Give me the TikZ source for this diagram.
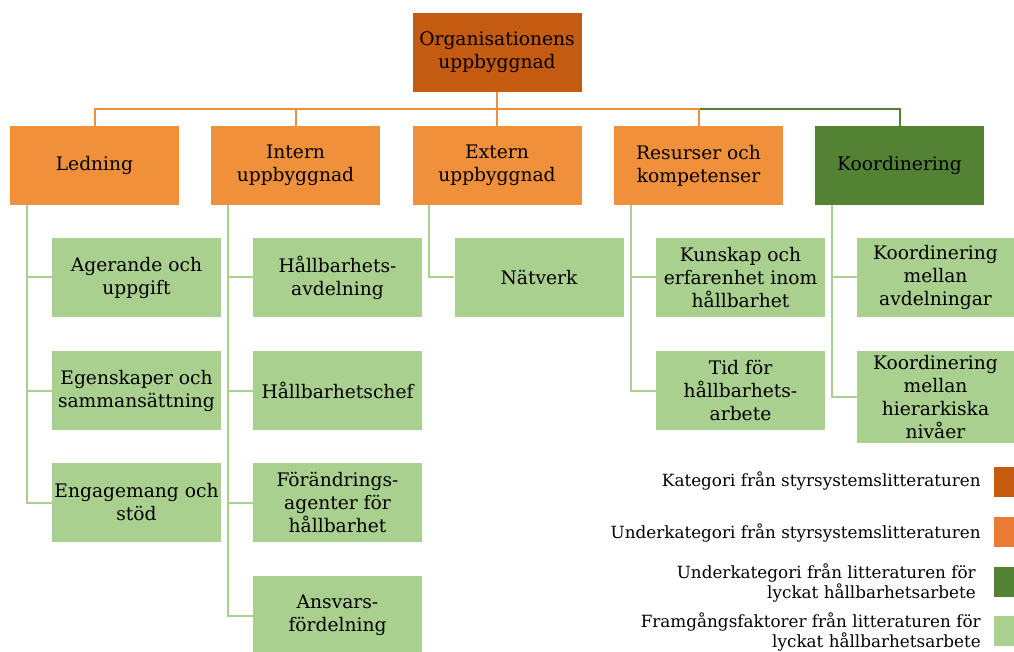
\documentclass[tikz,border=0pt]{standalone}
\usepackage{fontspec}
\setmainfont{DejaVu Serif}
\definecolor{katc}{HTML}{C55A11}
\definecolor{underc}{HTML}{F0903A}
\definecolor{legorange}{HTML}{E97B35}
\definecolor{koordc}{HTML}{548235}
\definecolor{faktorc}{HTML}{A9D08E}
\begin{document}
\begin{tikzpicture}[x=0.75pt, y=-0.75pt,
  box/.style={rectangle, inner sep=0pt, minimum width=126.75pt, minimum height=59.25pt, align=center, font=\fontsize{14}{17.25}\selectfont},
  kat/.style={box, fill=katc},
  under/.style={box, fill=underc},
  koord/.style={box, fill=koordc},
  faktor/.style={box, fill=faktorc},
  leg/.style={anchor=east, align=right, inner sep=0pt, font=\fontsize{12.6}{15}\selectfont},
  legbox/.style={rectangle, inner sep=0pt, minimum width=15pt, minimum height=22.5pt},
  orangeline/.style={draw=underc, line width=1.5pt},
  greenline/.style={draw=koordc, line width=1.5pt},
  subline/.style={draw=faktorc, line width=1.5pt}]
  \useasboundingbox (0,0) rectangle (1014,652);

  % Root
  \node[kat] (org) at (497, 52.5) {Organisationens\\uppbyggnad};

  % Underkategorier
  \node[under] (led) at (94.5, 165.5) {Ledning};
  \node[under] (intern) at (295.5, 165.5) {Intern\\uppbyggnad};
  \node[under] (extern) at (497, 165.5) {Extern\\uppbyggnad};
  \node[under] (resurs) at (698.5, 165.5) {Resurser och\\kompetenser};
  \node[koord] (koord) at (899.5, 165.5) {Koordinering};

  % Framgangsfaktorer - Ledning
  \node[faktor] (agerande) at (136.5, 277.5) {Agerande och\\uppgift};
  \node[faktor] (egenskap) at (136.5, 390.5) {Egenskaper och\\sammansättning};
  \node[faktor] (engagemang) at (136.5, 502.5) {Engagemang och\\stöd};

  % Framgangsfaktorer - Intern uppbyggnad
  \node[faktor] (avdelning) at (337.5, 277.5) {Hållbarhets-\\avdelning};
  \node[faktor] (chef) at (337.5, 390.5) {Hållbarhetschef};
  \node[faktor] (agenter) at (337.5, 502.5) {Förändrings-\\agenter för\\hållbarhet};
  \node[faktor] (ansvar) at (337.5, 615.5) {Ansvars-\\fördelning};

  % Framgangsfaktorer - Extern, Resurser, Koordinering
  \node[faktor] (natverk) at (539, 277.5) {Nätverk};
  \node[faktor] (kunskap) at (740.5, 277.5) {Kunskap och\\erfarenhet inom\\hållbarhet};
  \node[faktor] (tid) at (740.5, 390.5) {Tid för\\hållbarhets-\\arbete};
  \node[faktor, minimum width=117.75pt] (mellanavd) at (935.5, 277.5) {Koordinering\\mellan\\avdelningar};
  \node[faktor, minimum width=117.75pt, minimum height=69pt] (mellanniv) at (935.5, 397) {Koordinering\\mellan\\hierarkiska\\nivåer};

  % Edges - root to underkategorier
  \draw[greenline] (org.south) -- ++(0,17) -| (koord.north);
  \draw[orangeline] (org.south) -- ++(0,17) -| (led.north);
  \draw[orangeline] (org.south) -- ++(0,17) -| (intern.north);
  \draw[orangeline] (org.south) -- ++(0,17) -| (extern.north);
  \draw[orangeline] (org.south) -- ++(0,17) -| (resurs.north);

  % Edges - underkategorier to framgangsfaktorer
  \draw[subline] ([xshift=12.75pt]led.south west) |- (agerande.west);
  \draw[subline] ([xshift=12.75pt]led.south west) |- (egenskap.west);
  \draw[subline] ([xshift=12.75pt]led.south west) |- (engagemang.west);
  \draw[subline] ([xshift=12.75pt]intern.south west) |- (avdelning.west);
  \draw[subline] ([xshift=12.75pt]intern.south west) |- (chef.west);
  \draw[subline] ([xshift=12.75pt]intern.south west) |- (agenter.west);
  \draw[subline] ([xshift=12.75pt]intern.south west) |- (ansvar.west);
  \draw[subline] ([xshift=12.75pt]extern.south west) |- (natverk.west);
  \draw[subline] ([xshift=12.75pt]resurs.south west) |- (kunskap.west);
  \draw[subline] ([xshift=12.75pt]resurs.south west) |- (tid.west);
  \draw[subline] ([xshift=12.75pt]koord.south west) |- (mellanavd.west);
  \draw[subline] ([xshift=12.75pt]koord.south west) |- (mellanniv.west);

  % Legend
  \node[legbox, fill=katc] (lkat) at (1004, 482) {};
  \node[legbox, fill=legorange] (lunder) at (1004, 532) {};
  \node[legbox, fill=koordc] (lkoord) at (1004, 582) {};
  \node[legbox, fill=faktorc] (lfaktor) at (1004, 630.5) {};
  \node[leg] (tkat) at (981, 481) {Kategori från styrsystemslitteraturen};
  \node[leg] (tunder) at (981, 533) {Underkategori från styrsystemslitteraturen};
  \node[leg] (tkoord) at (976, 583) {Underkategori från litteraturen för\\lyckat hållbarhetsarbete};
  \node[leg] (tfaktor) at (981, 632) {Framgångsfaktorer från litteraturen för\\lyckat hållbarhetsarbete};
\end{tikzpicture}
\end{document}
